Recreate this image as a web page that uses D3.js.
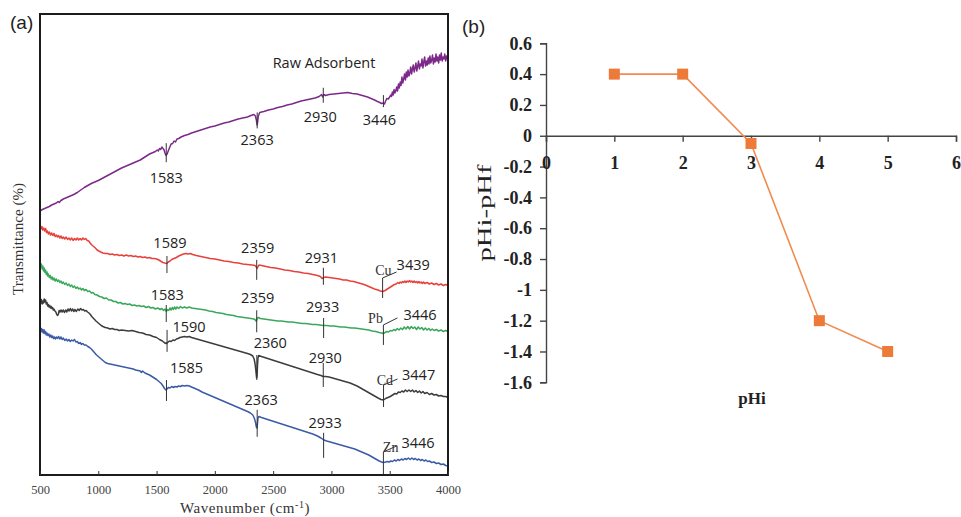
<!DOCTYPE html>
<html><head><meta charset="utf-8">
<script src="https://cdn.jsdelivr.net/npm/d3@7"></script>
<style>body{margin:0;background:#fff}</style>
</head><body>
<svg id="c" width="961" height="517" xmlns="http://www.w3.org/2000/svg"></svg>
<script>
// ---------------- DATA: panel (a) FTIR spectra [wavenumber, transmittance (a.u.)] ----------------
const rawAdsorbent = [[500,264],[520,265.5],[540,266.5],[560,267.5],[580,268.5],[600,270],[620,271],[640,272],[655,273.5],[665,272.5],[680,274.5],[700,276],[730,277.5],[760,279],[790,280.5],[820,282.5],[850,285],[880,287.5],[910,289.5],[940,291.5],[970,293],[1000,294.5],[1040,297],[1080,299.5],[1120,302],[1160,304.5],[1200,307],[1240,309],[1280,311],[1320,313],[1360,315],[1400,318],[1440,321],[1470,322.5],[1490,323.5],[1505,325],[1515,324],[1525,326.5],[1535,325.5],[1545,328],[1555,326.5],[1565,325],[1572,322],[1581,319.5],[1590,321],[1600,324],[1612,327.5],[1625,331],[1638,331.5],[1650,334],[1662,333],[1675,336],[1690,336.5],[1710,338],[1740,339.5],[1770,340.5],[1800,342],[1840,343.5],[1880,345],[1920,346.5],[1960,348],[2000,349],[2040,350.5],[2080,352],[2120,353],[2160,354.5],[2200,356],[2240,357],[2280,358],[2310,359.5],[2335,360.5],[2348,359],[2356,355],[2362,350],[2367,353],[2373,359],[2385,362.5],[2420,363.5],[2460,365],[2500,366],[2540,367.5],[2580,368.5],[2620,370],[2660,371],[2700,372.5],[2740,374],[2780,375],[2820,376],[2860,377],[2895,378.5],[2915,380.5],[2925,378],[2935,380.5],[2950,379.5],[2980,380.5],[3020,381],[3060,381.5],[3100,382],[3140,382.5],[3180,381.5],[3220,381],[3250,380],[3280,379],[3310,378],[3340,376.5],[3370,375],[3395,373.5],[3415,372.5],[3430,371.5],[3445,372],[3455,371],[3465,374],[3475,376.5],[3488,376],[3500,378],[3508,380],[3515,378.5],[3523,383],[3530,380],[3537,385.5],[3545,382],[3552,384],[3560,388],[3567,384],[3575,391],[3582,387],[3590,393],[3597,389.5],[3605,398],[3612,392],[3620,396],[3627,401],[3635,395],[3642,403],[3650,398],[3657,405],[3665,399],[3672,402],[3680,408],[3687,401],[3695,406],[3702,410],[3710,403],[3717,407],[3725,412],[3732,404],[3740,409],[3747,414],[3755,406],[3762,411],[3770,409],[3777,416],[3785,407],[3792,413],[3800,418],[3807,409],[3815,414],[3822,410],[3830,417],[3837,411],[3845,419],[3852,412],[3860,415],[3867,420],[3875,411],[3882,417],[3890,413],[3897,421],[3905,414],[3912,418],[3920,412],[3927,420],[3935,415],[3942,422],[3950,414],[3957,418],[3965,416],[3972,421],[3980,414],[3987,419],[3995,416],[4000,417]];
const cuSpectrum = [[500,249],[508,246],[516,248.5],[524,245],[532,247],[540,244],[548,246.5],[556,242.5],[564,244],[572,241],[580,243],[590,240],[600,242],[610,239.5],[620,241.5],[630,238.5],[640,240],[650,238],[660,239.5],[670,237],[680,239],[690,236.5],[700,238],[712,236],[724,238],[736,235.5],[748,237],[760,235],[772,237],[784,234.5],[796,236.5],[808,235],[820,237],[832,235],[844,236.5],[856,235],[868,237],[880,235.5],[892,236.5],[905,234.5],[918,234],[930,232],[945,230],[960,228.5],[975,227],[990,225],[1005,224],[1020,223],[1040,222],[1060,221.5],[1080,221.5],[1100,220.5],[1120,221],[1140,220],[1160,220.5],[1180,219.5],[1200,220],[1220,219],[1240,220],[1260,219],[1280,219.5],[1300,218.5],[1320,219],[1340,218],[1360,218.5],[1380,217.5],[1400,218],[1420,217],[1440,217.5],[1460,216.5],[1480,216.5],[1500,216],[1520,215],[1540,213.5],[1555,212.5],[1570,212],[1589,211.5],[1600,213],[1615,214],[1630,215.5],[1650,216.5],[1670,217.5],[1690,219],[1710,220],[1730,221],[1750,221.5],[1770,221],[1790,221.5],[1810,220.5],[1840,219.5],[1880,218.5],[1920,217.5],[1960,216.5],[2000,216],[2040,215],[2080,214],[2120,213.5],[2160,212.5],[2200,212],[2240,211],[2280,210.5],[2320,210],[2345,209.5],[2355,208],[2362,206.5],[2370,208.5],[2380,210],[2400,209.5],[2440,208.5],[2480,207.5],[2520,207],[2560,206],[2600,205],[2640,204.5],[2680,203.5],[2720,203],[2760,202],[2800,201.5],[2840,200.5],[2880,199.5],[2905,198.5],[2920,196.5],[2935,197.5],[2950,198],[2980,197.5],[3010,197],[3040,196.5],[3070,196],[3100,195],[3130,195],[3160,194],[3190,193.5],[3220,192.5],[3250,191.5],[3280,190.5],[3310,189],[3340,187.5],[3370,186],[3400,185],[3420,184],[3440,183.5],[3460,184.5],[3480,186],[3500,187.5],[3520,189],[3540,190.5],[3555,191],[3570,192.5],[3580,191.5],[3590,193],[3600,192],[3610,193.5],[3620,192.5],[3630,194],[3640,192.5],[3650,194],[3660,193],[3670,194.5],[3680,193],[3690,194],[3700,192.5],[3710,194],[3720,192.5],[3730,193.5],[3740,192],[3750,193.5],[3760,192],[3770,193],[3780,191.5],[3790,193],[3800,191.5],[3820,192.5],[3840,191],[3860,192],[3880,190.5],[3900,191.5],[3920,190],[3940,191],[3960,189.5],[3980,190.5],[4000,189.5]];
const pbSpectrum = [[500,212],[506,208],[512,211],[518,206],[524,209],[530,204],[536,207],[542,202.5],[548,205],[554,200.5],[560,203],[566,199],[572,201],[580,197.5],[588,199.5],[596,196],[604,198],[612,195],[620,197],[630,194],[640,196],[650,193.5],[660,195],[670,192.5],[680,194],[690,191.5],[700,193],[712,190.5],[724,192],[736,189.5],[748,191],[760,188.5],[772,190],[784,187.5],[796,189],[808,186.5],[820,188],[832,186],[844,187],[856,185],[868,186.5],[880,184.5],[895,185.5],[910,183.5],[925,184],[940,182],[955,182.5],[970,180.5],[990,180],[1010,178.5],[1030,178],[1050,176.5],[1070,177],[1090,175],[1110,175],[1130,173.5],[1150,173.5],[1170,172],[1190,172.5],[1210,171],[1230,171.5],[1250,170.5],[1270,171],[1290,169.5],[1310,170],[1330,169],[1350,169.5],[1370,168.5],[1390,169],[1410,167.5],[1430,168.5],[1450,167],[1470,167.5],[1490,166],[1510,167],[1530,165.5],[1545,166.5],[1560,164.5],[1572,166],[1583,163.5],[1595,165.5],[1605,164.5],[1615,167],[1625,165],[1635,167.5],[1645,165.5],[1655,168],[1665,166],[1675,168],[1690,166.5],[1705,168.5],[1720,167],[1740,168],[1760,167],[1780,168],[1800,167],[1830,166.5],[1860,166],[1890,165.5],[1920,165],[1950,164],[1980,163.5],[2010,162.5],[2040,162],[2070,161.5],[2100,160.5],[2130,160],[2160,159.5],[2190,158.5],[2220,158],[2250,157.5],[2280,157],[2310,156.5],[2335,156],[2348,155],[2355,153.5],[2360,155],[2365,157],[2375,157.5],[2390,156.5],[2420,156],[2450,155.5],[2480,155],[2510,154.5],[2540,154],[2570,154],[2600,153.5],[2630,153],[2660,153],[2690,152.5],[2720,152],[2750,151.5],[2780,151.5],[2810,151],[2840,150.5],[2870,150.5],[2900,150],[2930,149.5],[2960,149.5],[2990,149],[3020,149],[3050,148.5],[3080,148],[3110,148],[3140,147.5],[3170,147],[3200,147],[3230,146.5],[3260,146],[3290,145.5],[3320,145],[3350,144],[3380,143.5],[3410,142.5],[3430,142],[3445,141.5],[3460,142.5],[3475,143.5],[3490,143],[3505,144.5],[3520,144],[3535,145.5],[3550,144.5],[3565,146.5],[3580,145],[3595,147],[3610,145.5],[3625,148],[3640,146],[3655,148.5],[3670,146],[3685,148.5],[3700,146.5],[3715,148],[3730,145.5],[3745,148],[3760,146],[3775,147.5],[3790,145],[3805,147],[3820,145],[3835,146.5],[3850,144.5],[3865,146],[3880,144.5],[3900,145.5],[3920,144],[3940,145],[3960,143.5],[3980,144.5],[4000,143.5]];
const cdSpectrum = [[500,175],[506,172],[512,175.5],[518,171],[524,174],[530,172],[536,176],[542,173],[548,175],[554,171],[560,172.5],[566,169],[572,170.5],[578,168],[584,169.5],[590,167],[596,168.5],[602,166.5],[608,167.5],[614,165],[620,166],[628,164],[636,163],[644,160.5],[652,159.5],[658,161],[664,164.5],[672,163],[680,165],[690,163],[700,165],[710,162.5],[720,165],[730,163],[740,166],[750,164],[760,166.5],[770,164],[780,166],[790,163.5],[800,165.5],[812,163.5],[824,166],[836,164.5],[848,166.5],[860,165],[872,165.5],[884,164],[896,164.5],[908,163],[920,162],[932,160.5],[944,158.5],[956,157],[968,155.5],[980,154],[995,152.5],[1010,151],[1025,149.5],[1040,148.5],[1060,147.5],[1080,147],[1100,146],[1120,146.5],[1140,145.5],[1160,145.5],[1180,144.5],[1200,145],[1230,144.5],[1260,144],[1290,144.5],[1320,143.5],[1350,142.5],[1380,142],[1410,140.5],[1440,140],[1470,138.5],[1500,137.5],[1525,135.5],[1550,134],[1565,132.5],[1580,131.5],[1595,132.5],[1610,134],[1625,133.5],[1640,135],[1655,134.5],[1670,136],[1685,136.5],[1700,137.5],[1720,138],[1740,138.5],[1760,138],[1780,138.5],[1800,137.5],[1830,136.5],[1860,135.5],[1890,134.5],[1920,133.5],[1950,132.5],[1980,131.5],[2010,130.5],[2040,129.5],[2070,128.5],[2100,127.5],[2130,126.5],[2160,125.5],[2190,124.5],[2220,123.5],[2250,122.5],[2280,121.5],[2305,120.5],[2325,119],[2337,116],[2345,111],[2352,104],[2358,97],[2362,99],[2366,110],[2370,117],[2376,119.5],[2400,118.5],[2440,117],[2480,115.5],[2520,114],[2560,112.5],[2600,111],[2640,109.5],[2680,108],[2720,106.5],[2760,105],[2800,103.5],[2840,102],[2880,100.5],[2910,99.5],[2930,98.5],[2950,98.5],[2980,98],[3010,97],[3040,96],[3070,95],[3100,94],[3130,93],[3160,92],[3190,90.5],[3220,89],[3250,87],[3280,85],[3310,83],[3340,81],[3370,79],[3400,77],[3425,75.5],[3447,75],[3465,76.5],[3485,77.5],[3505,78.5],[3525,80],[3545,81.5],[3560,81],[3575,83],[3590,82.5],[3605,84],[3620,83],[3635,85],[3650,83.5],[3665,85],[3680,83.5],[3695,85],[3710,83],[3725,84.5],[3740,82.5],[3755,84],[3770,82],[3785,83.5],[3800,81.5],[3820,82.5],[3840,80.5],[3860,81.5],[3880,80],[3900,80.5],[3920,79],[3940,79.5],[3960,78.5],[3980,78.5],[4000,77.5]];
const znSpectrum = [[500,147],[506,144],[512,146.5],[518,143],[524,145.5],[530,142],[536,145],[542,141.5],[548,143.5],[554,140],[560,142],[568,139.5],[576,141],[584,138],[592,140],[600,137.5],[608,139],[616,136.5],[624,138],[632,136],[640,138],[650,136.5],[660,138.5],[670,136],[680,138],[690,135.5],[700,137],[712,134.5],[724,136],[736,134],[748,135.5],[760,133.5],[772,135],[784,134],[796,135.5],[808,133],[820,133.5],[832,131.5],[844,132.5],[856,130.5],[868,131.5],[880,130],[895,130],[910,128.5],[925,127.5],[940,126],[955,124],[970,122],[985,120],[1000,118.5],[1015,117],[1030,115.5],[1045,114],[1060,112.5],[1080,111.5],[1100,111],[1120,110.5],[1140,110],[1160,109.5],[1180,109],[1200,108.5],[1220,108],[1240,107.5],[1260,107],[1280,106.5],[1300,106],[1320,105],[1340,104.5],[1360,104],[1370,102.5],[1380,104],[1400,102],[1420,101],[1440,100],[1460,98.5],[1480,97],[1500,95.5],[1520,93.5],[1540,91.5],[1555,89],[1568,86.5],[1580,85],[1590,86],[1600,87.5],[1615,87],[1630,88.5],[1645,87.5],[1660,88.5],[1675,88],[1690,89],[1705,88.5],[1720,89.5],[1740,89],[1760,89.5],[1780,89],[1800,88],[1830,86.5],[1860,85],[1890,83],[1920,81.5],[1950,80],[1980,78.5],[2010,77],[2040,75.5],[2070,74],[2100,72.5],[2130,71],[2160,69.5],[2190,68],[2220,66.5],[2250,65],[2280,63.5],[2305,62],[2325,60],[2338,57],[2348,53],[2356,48],[2362,47],[2366,52],[2370,57],[2378,58.5],[2400,57.5],[2440,56],[2480,54.5],[2520,53],[2560,51.5],[2600,50],[2640,48.5],[2680,47],[2720,45.5],[2760,44],[2800,42.5],[2840,41],[2880,39],[2910,37],[2935,35],[2960,34],[2990,33],[3020,32],[3050,31],[3080,30],[3110,29],[3140,28],[3170,27],[3200,26],[3230,24.5],[3260,23],[3290,21.5],[3320,20],[3350,18],[3380,16],[3410,14],[3430,13],[3446,12.5],[3465,13],[3480,13.5],[3495,13],[3510,14],[3525,13.5],[3540,15],[3555,14],[3570,15.5],[3585,14.5],[3600,16],[3615,15],[3630,16.5],[3645,15.5],[3660,17],[3675,15.5],[3690,17],[3705,15.5],[3720,16.5],[3735,15],[3750,16],[3765,14.5],[3780,15.5],[3795,14],[3810,15],[3825,13.5],[3840,14],[3860,12.5],[3880,13],[3900,11.5],[3920,12],[3940,10.5],[3960,11],[3980,9.5],[4000,9]];

const rawPeaks = [1583, 2363, 2930, 3446];
const cuPeaks = [1589, 2359, 2931, 3439];
const pbPeaks = [1583, 2359, 2933, 3446];
const cdPeaks = [1590, 2360, 2930, 3447];
const znPeaks = [1585, 2363, 2933, 3446];
const metalNames = ["Cu", "Pb", "Cd", "Zn"];
const wavenumberTicks = [500, 1000, 1500, 2000, 2500, 3000, 3500, 4000];

// ---------------- DATA: panel (b) ----------------
const pHi = [1, 2, 3, 4, 5];
const pHdiff = [0.4, 0.4, -0.05, -1.2, -1.4];
const pHiTicks = [0, 1, 2, 3, 4, 5, 6];
const pHdiffTicks = [0.6, 0.4, 0.2, 0, -0.2, -0.4, -0.6, -0.8, -1, -1.2, -1.4, -1.6];

// ---------------- LAYOUT (pixel offsets for annotations) ----------------
// [tickUp, tickDown, labelDx, labelDy] relative to curve point
const rawLayout = [[12,7,0,28],[12,4,0,21],[8,7,-3,26],[8,4,-4,22]];
const cuLayout  = [[7.5,9.5,3,-15.5],[8,12,1,-15],[10,7,-2,-15]];
const pbLayout  = [[6.5,10.5,1,-11.5],[10,12,1,-17],[7.5,12.5,-1,-13.5]];
const cdLayout  = [[13,9,22,-11],[22,3,13.5,-29],[13.5,10.5,2,-13.5]];
const znLayout  = [[9.5,11.5,20,-16.5],[17,10,4,-22],[7,18,1.5,-12]];
// metal annotation: [up, down, leaderDx, leaderDy, metalDx, metalDy, numDx, numDy]
const metalLayout = [
  [13.5,6.5,14,-6,9,-16.5,14,-21.5],
  [8.5,11.5,14,-7,-0.5,-10.5,20,-13.5],
  [15,7,14,-6,9.5,-15,18.5,-20],
  [10.5,12.5,13,-6,15,-10.5,18,-14.5]
];

const svg = d3.select("#c");
const SANS = "'Open Sans', 'Liberation Sans', sans-serif";
const SERIF = "'Liberation Serif', 'Times New Roman', serif";

// ===== Panel (a) =====
const xL = d3.scaleLinear().domain([500, 4000]).range([40, 448]);
const yL = d3.scaleLinear().domain([0, 461]).range([475, 14]);
const line = d3.line().x(d => xL(d[0])).y(d => yL(d[1]));

function valAt(data, wn) {
  for (let i = 1; i < data.length; i++) {
    if (data[i][0] >= wn) {
      const a = data[i-1], b = data[i];
      const t = (wn - a[0]) / (b[0] - a[0]);
      return a[1] + t * (b[1] - a[1]);
    }
  }
  return data[data.length-1][1];
}

const series = [
  {data: rawAdsorbent, color: "#7c2a8a", peaks: rawPeaks, layout: rawLayout, metal: null},
  {data: cuSpectrum, color: "#e8403b", peaks: cuPeaks, layout: cuLayout, metal: 0},
  {data: pbSpectrum, color: "#3aa85b", peaks: pbPeaks, layout: pbLayout, metal: 1},
  {data: cdSpectrum, color: "#3d3d3d", peaks: cdPeaks, layout: cdLayout, metal: 2},
  {data: znSpectrum, color: "#3b5ba8", peaks: znPeaks, layout: znLayout, metal: 3}
];

const gA = svg.append("g");
series.forEach(s => {
  gA.append("path").attr("d", line(s.data)).attr("fill", "none")
    .attr("stroke", s.color).attr("stroke-width", 1.5).attr("stroke-linejoin", "round");
});

series.forEach(s => {
  s.layout.forEach((L, i) => {
    const wn = s.peaks[i];
    const px = xL(wn), py = yL(valAt(s.data, wn));
    gA.append("line").attr("x1", px).attr("x2", px).attr("y1", py - L[0]).attr("y2", py + L[1])
      .attr("stroke", "#333").attr("stroke-width", 1);
    gA.append("text").attr("x", px + L[2]).attr("y", py + L[3]).attr("text-anchor", "middle")
      .attr("font-family", SANS).attr("font-size", 14.5).attr("fill", "#222").text(String(wn));
  });
  if (s.metal !== null) {
    const M = metalLayout[s.metal];
    const wn = s.peaks[3];
    const px = xL(wn), py = yL(valAt(s.data, wn));
    const top = py - M[0];
    gA.append("line").attr("x1", px).attr("x2", px).attr("y1", top).attr("y2", Math.min(py + M[1], 475))
      .attr("stroke", "#333").attr("stroke-width", 1);
    gA.append("line").attr("x1", px).attr("y1", top).attr("x2", px + M[2]).attr("y2", top + M[3])
      .attr("stroke", "#333").attr("stroke-width", 1);
    gA.append("text").attr("x", px + M[4]).attr("y", py + M[5]).attr("text-anchor", "end")
      .attr("font-family", SERIF).attr("font-size", 14).attr("fill", "#333").text(metalNames[s.metal]);
    gA.append("text").attr("x", px + M[6]).attr("y", py + M[7]).attr("text-anchor", "start")
      .attr("font-family", SANS).attr("font-size", 14.5).attr("fill", "#222").text(String(wn));
  }
});

gA.append("text").attr("x", 324).attr("y", 68).attr("text-anchor", "middle")
  .attr("font-family", SANS).attr("font-size", 14.5).attr("fill", "#222").text("Raw Adsorbent");

// frame
gA.append("rect").attr("x", 40).attr("y", 14).attr("width", 408).attr("height", 461)
  .attr("fill", "none").attr("stroke", "#1c1c1c").attr("stroke-width", 2);

// bottom axis
const axB = d3.axisBottom(xL).tickValues(wavenumberTicks).tickSize(-4).tickPadding(10).tickFormat(d3.format("d"));
const gAx = gA.append("g").attr("transform", "translate(0,475)").call(axB);
gAx.attr("font-family", SERIF);
gAx.select(".domain").remove();
gAx.selectAll("line").attr("stroke", "#333").attr("stroke-width", 1);
gAx.selectAll("text").attr("font-family", SERIF).attr("font-size", 12.5).attr("fill", "#444");

const wl = gA.append("text").attr("x", 245).attr("y", 513).attr("text-anchor", "middle")
  .attr("font-family", SERIF).attr("font-size", 15).attr("fill", "#333").attr("letter-spacing", 0.6);
wl.append("tspan").text("Wavenumber (cm");
wl.append("tspan").attr("dy", -5).attr("font-size", 10).text("-1");
wl.append("tspan").attr("dy", 5).text(")");

gA.append("text").attr("transform", "translate(23,239) rotate(-90)").attr("text-anchor", "middle")
  .attr("font-family", SERIF).attr("font-size", 15).attr("fill", "#333")
  .attr("textLength", 112).attr("lengthAdjust", "spacingAndGlyphs").text("Transmittance (%)");

svg.append("text").attr("x", 10).attr("y", 29).attr("font-family", "'Liberation Sans', Arial, sans-serif")
  .attr("font-size", 19).attr("fill", "#222").text("(a)");

// ===== Panel (b) =====
const xR = d3.scaleLinear().domain([0, 6]).range([546, 956]);
const yR = d3.scaleLinear().domain([-1.6, 0.6]).range([382.3, 43.3]);
const gB = svg.append("g");

const ayR = d3.axisLeft(yR).tickValues(pHdiffTicks).tickSize(6).tickPadding(8)
  .tickFormat(d => d === 0 ? "0" : String(d));
const gyR = gB.append("g").attr("transform", "translate(546,0)").call(ayR);
gyR.attr("font-family", SERIF);
gyR.select(".domain").attr("stroke", "#444").attr("stroke-width", 1.4);
gyR.selectAll("line").attr("stroke", "#444").attr("stroke-width", 1.4);
gyR.selectAll("text").attr("font-family", SERIF).attr("font-weight", "bold").attr("font-size", 18).attr("fill", "#222");

const axR = d3.axisBottom(xR).tickValues(pHiTicks).tickSize(6).tickPadding(14).tickFormat(d3.format("d"));
const gxR = gB.append("g").attr("transform", `translate(0,${yR(0)})`).call(axR);
gxR.attr("font-family", SERIF);
gxR.select(".domain").attr("stroke", "#444").attr("stroke-width", 1.4);
gxR.selectAll("line").attr("stroke", "#444").attr("stroke-width", 1.4);
gxR.selectAll("text").attr("font-family", SERIF).attr("font-weight", "bold").attr("font-size", 18).attr("fill", "#222");

const pts = pHi.map((x, i) => [x, pHdiff[i]]);
gB.append("path").attr("d", d3.line().x(d => xR(d[0])).y(d => yR(d[1]))(pts))
  .attr("fill", "none").attr("stroke", "#f08c52").attr("stroke-width", 1.6);
gB.selectAll("rect.m").data(pts).enter().append("rect").attr("class", "m")
  .attr("x", d => xR(d[0]) - 5.5).attr("y", d => yR(d[1]) - 5.5).attr("width", 11).attr("height", 11)
  .attr("fill", "#ee7a3a");

gB.append("text").attr("transform", "translate(491,213) rotate(-90)").attr("text-anchor", "middle")
  .attr("font-family", SERIF).attr("font-size", 18).attr("fill", "#222")
  .attr("textLength", 97).attr("lengthAdjust", "spacingAndGlyphs").text("pHi-pHf");

gB.append("text").attr("x", 752).attr("y", 404).attr("text-anchor", "middle")
  .attr("font-family", SERIF).attr("font-weight", "bold").attr("font-size", 17).attr("fill", "#222").text("pHi");

svg.append("text").attr("x", 462).attr("y", 33).attr("font-family", "'Liberation Sans', Arial, sans-serif")
  .attr("font-size", 19).attr("fill", "#222").text("(b)");
</script>
</body></html>
